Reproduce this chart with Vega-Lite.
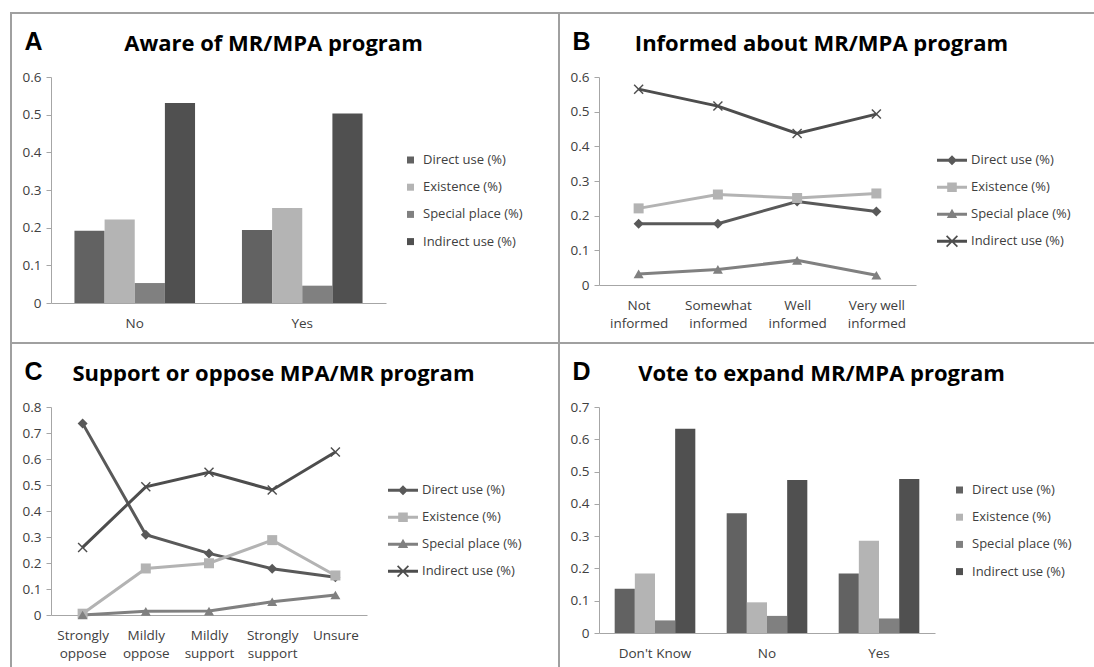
{
  "$schema": "https://vega.github.io/schema/vega-lite/v6.json",
  "background": "white",
  "padding": {"left": 10, "top": 12, "right": 0, "bottom": 0},
  "datasets": {
    "aware": [
      {"group": "No", "series": "Direct use (%)", "value": 0.192},
      {"group": "No", "series": "Existence (%)", "value": 0.222},
      {"group": "No", "series": "Special place (%)", "value": 0.053},
      {"group": "No", "series": "Indirect use (%)", "value": 0.531},
      {"group": "Yes", "series": "Direct use (%)", "value": 0.194},
      {"group": "Yes", "series": "Existence (%)", "value": 0.252},
      {"group": "Yes", "series": "Special place (%)", "value": 0.046},
      {"group": "Yes", "series": "Indirect use (%)", "value": 0.503}
    ],
    "informed": [
      {"level": "Not informed", "series": "Direct use (%)", "value": 0.177},
      {"level": "Somewhat informed", "series": "Direct use (%)", "value": 0.177},
      {"level": "Well informed", "series": "Direct use (%)", "value": 0.241},
      {"level": "Very well informed", "series": "Direct use (%)", "value": 0.212},
      {"level": "Not informed", "series": "Existence (%)", "value": 0.221},
      {"level": "Somewhat informed", "series": "Existence (%)", "value": 0.261},
      {"level": "Well informed", "series": "Existence (%)", "value": 0.251},
      {"level": "Very well informed", "series": "Existence (%)", "value": 0.264},
      {"level": "Not informed", "series": "Special place (%)", "value": 0.032},
      {"level": "Somewhat informed", "series": "Special place (%)", "value": 0.045},
      {"level": "Well informed", "series": "Special place (%)", "value": 0.071},
      {"level": "Very well informed", "series": "Special place (%)", "value": 0.028},
      {"level": "Not informed", "series": "Indirect use (%)", "value": 0.565},
      {"level": "Somewhat informed", "series": "Indirect use (%)", "value": 0.516},
      {"level": "Well informed", "series": "Indirect use (%)", "value": 0.437},
      {"level": "Very well informed", "series": "Indirect use (%)", "value": 0.493}
    ],
    "support": [
      {"level": "Strongly oppose", "series": "Direct use (%)", "value": 0.737},
      {"level": "Mildly oppose", "series": "Direct use (%)", "value": 0.309},
      {"level": "Mildly support", "series": "Direct use (%)", "value": 0.237},
      {"level": "Strongly support", "series": "Direct use (%)", "value": 0.178},
      {"level": "Unsure", "series": "Direct use (%)", "value": 0.145},
      {"level": "Strongly oppose", "series": "Existence (%)", "value": 0.005},
      {"level": "Mildly oppose", "series": "Existence (%)", "value": 0.179},
      {"level": "Mildly support", "series": "Existence (%)", "value": 0.199},
      {"level": "Strongly support", "series": "Existence (%)", "value": 0.288},
      {"level": "Unsure", "series": "Existence (%)", "value": 0.152},
      {"level": "Strongly oppose", "series": "Special place (%)", "value": 0.0},
      {"level": "Mildly oppose", "series": "Special place (%)", "value": 0.014},
      {"level": "Mildly support", "series": "Special place (%)", "value": 0.015},
      {"level": "Strongly support", "series": "Special place (%)", "value": 0.051},
      {"level": "Unsure", "series": "Special place (%)", "value": 0.077},
      {"level": "Strongly oppose", "series": "Indirect use (%)", "value": 0.26},
      {"level": "Mildly oppose", "series": "Indirect use (%)", "value": 0.493},
      {"level": "Mildly support", "series": "Indirect use (%)", "value": 0.549},
      {"level": "Strongly support", "series": "Indirect use (%)", "value": 0.481},
      {"level": "Unsure", "series": "Indirect use (%)", "value": 0.627}
    ],
    "vote": [
      {"group": "Don't Know", "series": "Direct use (%)", "value": 0.137},
      {"group": "Don't Know", "series": "Existence (%)", "value": 0.184},
      {"group": "Don't Know", "series": "Special place (%)", "value": 0.039},
      {"group": "Don't Know", "series": "Indirect use (%)", "value": 0.633},
      {"group": "No", "series": "Direct use (%)", "value": 0.371},
      {"group": "No", "series": "Existence (%)", "value": 0.095},
      {"group": "No", "series": "Special place (%)", "value": 0.053},
      {"group": "No", "series": "Indirect use (%)", "value": 0.474},
      {"group": "Yes", "series": "Direct use (%)", "value": 0.184},
      {"group": "Yes", "series": "Existence (%)", "value": 0.286},
      {"group": "Yes", "series": "Special place (%)", "value": 0.045},
      {"group": "Yes", "series": "Indirect use (%)", "value": 0.477}
    ]
  },
  "concat": [
    {
      "width": 548,
      "height": 330,
      "data": {"name": "aware"},
      "mark": {"type": "bar"},
      "encoding": {
        "x": {
          "field": "group", "type": "nominal", "sort": ["No", "Yes"],
          "scale": {"range": [40, 375], "paddingInner": 0.28, "paddingOuter": 0.14},
          "axis": {"orient": "bottom", "offset": -40, "ticks": false, "tickSize": 0, "labelPadding": 13, "labelAngle": 0,
            "title": "Aware of MR/MPA program", "titleX": 262, "titleY": -253, "titleAlign": "center", "titleBaseline": "alphabetic",
            "titleFont": "Open Sans", "titleFontSize": 22, "titleFontWeight": "bold", "titleColor": "#000000"}
        },
        "xOffset": {"field": "series", "type": "nominal", "sort": ["Direct use (%)", "Existence (%)", "Special place (%)", "Indirect use (%)"], "scale": {"paddingInner": 0, "paddingOuter": 0}},
        "y": {
          "field": "value", "type": "quantitative",
          "scale": {"domain": [0, 0.6], "range": [290, 64], "nice": false},
          "axis": {"orient": "left", "offset": -40, "values": [0, 0.1, 0.2, 0.3, 0.4, 0.5, 0.6], "format": ".1~f", "tickSize": 5, "labelPadding": 5,
            "title": "A", "titleAngle": 0, "titleX": -27, "titleY": 36, "titleAlign": "left", "titleBaseline": "alphabetic",
            "titleFont": "Liberation Sans", "titleFontSize": 25, "titleFontWeight": "bold", "titleColor": "#000000"}
        },
        "color": {
          "field": "series", "type": "nominal",
          "scale": {"domain": ["Direct use (%)", "Existence (%)", "Special place (%)", "Indirect use (%)"], "range": ["#626262", "#b4b4b4", "#808080", "#505050"]},
          "legend": {"title": null, "orient": "none", "legendX": 393, "legendY": 140.5, "symbolType": "square", "symbolSize": 49, "symbolStrokeWidth": 0, "labelOffset": 6, "rowPadding": 13.2}
        }
      }
    },
    {
      "width": 548,
      "height": 330,
      "data": {"name": "informed"},
      "resolve": {"scale": {"shape": "independent", "color": "independent"}},
      "encoding": {
        "x": {
          "field": "level", "type": "ordinal", "sort": ["Not informed", "Somewhat informed", "Well informed", "Very well informed"],
          "scale": {"type": "point", "range": [40, 357], "padding": 0.5},
          "axis": {"orient": "bottom", "offset": -58, "ticks": false, "tickSize": 0, "labelPadding": 13, "labelAngle": 0, "labelLineHeight": 18,
            "labelExpr": "indexof(datum.label, ' ') > 0 ? [slice(datum.label, 0, lastindexof(datum.label, ' ')), slice(datum.label, lastindexof(datum.label, ' ') + 1)] : datum.label",
            "title": "Informed about MR/MPA program", "titleX": 262, "titleY": -235, "titleAlign": "center", "titleBaseline": "alphabetic",
            "titleFont": "Open Sans", "titleFontSize": 22, "titleFontWeight": "bold", "titleColor": "#000000"}
        },
        "y": {
          "field": "value", "type": "quantitative",
          "scale": {"domain": [0, 0.6], "range": [272, 64], "nice": false},
          "axis": {"orient": "left", "offset": -40, "values": [0, 0.1, 0.2, 0.3, 0.4, 0.5, 0.6], "format": ".1~f", "tickSize": 5, "labelPadding": 5,
            "title": "B", "titleAngle": 0, "titleX": -27, "titleY": 36, "titleAlign": "left", "titleBaseline": "alphabetic",
            "titleFont": "Liberation Sans", "titleFontSize": 25, "titleFontWeight": "bold", "titleColor": "#000000"}
        }
      },
      "layer": [
        {
          "mark": {"type": "line", "strokeWidth": 3},
          "encoding": {
            "order": {"value": null},
            "stroke": {
              "field": "series", "type": "nominal",
              "scale": {"domain": ["Direct use (%)", "Existence (%)", "Special place (%)", "Indirect use (%)"], "range": ["#595959", "#b3b3b3", "#808080", "#4d4d4d"]},
              "legend": null
            }
          }
        },
        {
          "mark": {"type": "point", "filled": true, "opacity": 1, "size": 100, "strokeWidth": 0},
          "encoding": {
            "fill": {
              "field": "series", "type": "nominal",
              "scale": {"domain": ["Direct use (%)", "Existence (%)", "Special place (%)", "Indirect use (%)"], "range": ["#595959", "#b3b3b3", "#808080", "#4d4d4d"]},
              "legend": null
            },
            "shape": {
              "field": "series", "type": "nominal",
              "scale": {"domain": ["Direct use (%)", "Existence (%)", "Special place (%)", "Indirect use (%)"], "range": ["diamond", "square", "triangle-up", "M0,-0.2L0.8,-1L1,-0.8L0.2,0L1,0.8L0.8,1L0,0.2L-0.8,1L-1,0.8L-0.2,0L-1,-0.8L-0.8,-1Z"]},
              "legend": null
            }
          }
        },
        {
          "mark": {"type": "point", "filled": true, "opacity": 0, "size": 400},
          "encoding": {
            "color": {
              "field": "series", "type": "nominal",
              "scale": {"domain": ["Direct use (%)", "Existence (%)", "Special place (%)", "Indirect use (%)"], "range": ["#595959", "#b3b3b3", "#808080", "#4d4d4d"]},
              "legend": {"title": null, "orient": "none", "legendX": 383, "legendY": 137.3, "symbolSize": 400, "symbolOpacity": 1, "symbolStrokeWidth": 0, "labelOffset": 9, "rowPadding": 10}
            },
            "shape": {
              "field": "series", "type": "nominal",
              "scale": {"domain": ["Direct use (%)", "Existence (%)", "Special place (%)", "Indirect use (%)"], "range": [
                "M-1.5,-0.15L1.5,-0.15L1.5,0.15L-1.5,0.15ZM0,-0.5L0.5,0L0,0.5L-0.5,0Z",
                "M-1.5,-0.15L1.5,-0.15L1.5,0.15L-1.5,0.15ZM-0.48,-0.48L0.48,-0.48L0.48,0.48L-0.48,0.48Z",
                "M-1.5,-0.15L1.5,-0.15L1.5,0.15L-1.5,0.15ZM0,-0.55L0.52,0.38L-0.52,0.38Z",
                "M-1.5,-0.15L1.5,-0.15L1.5,0.15L-1.5,0.15ZM0,-0.12L0.48,-0.6L0.6,-0.48L0.12,0L0.6,0.48L0.48,0.6L0,0.12L-0.48,0.6L-0.6,0.48L-0.12,0L-0.6,-0.48L-0.48,-0.6Z"
              ]},
              "legend": {"title": null, "orient": "none", "legendX": 383, "legendY": 137.3, "symbolSize": 400, "symbolOpacity": 1, "symbolStrokeWidth": 0, "labelOffset": 9, "rowPadding": 10}
            }
          }
        }
      ]
    },
    {
      "width": 548,
      "height": 330,
      "data": {"name": "support"},
      "resolve": {"scale": {"shape": "independent", "color": "independent"}},
      "encoding": {
        "x": {
          "field": "level", "type": "ordinal", "sort": ["Strongly oppose", "Mildly oppose", "Mildly support", "Strongly support", "Unsure"],
          "scale": {"type": "point", "range": [40, 356], "padding": 0.5},
          "axis": {"orient": "bottom", "offset": -58, "ticks": false, "tickSize": 0, "labelPadding": 13, "labelAngle": 0, "labelLineHeight": 18,
            "labelExpr": "indexof(datum.label, ' ') > 0 ? [slice(datum.label, 0, lastindexof(datum.label, ' ')), slice(datum.label, lastindexof(datum.label, ' ') + 1)] : datum.label",
            "title": "Support or oppose MPA/MR program", "titleX": 262, "titleY": -235, "titleAlign": "center", "titleBaseline": "alphabetic",
            "titleFont": "Open Sans", "titleFontSize": 22, "titleFontWeight": "bold", "titleColor": "#000000"}
        },
        "y": {
          "field": "value", "type": "quantitative",
          "scale": {"domain": [0, 0.8], "range": [272, 64], "nice": false},
          "axis": {"orient": "left", "offset": -40, "values": [0, 0.1, 0.2, 0.3, 0.4, 0.5, 0.6, 0.7, 0.8], "format": ".1~f", "tickSize": 5, "labelPadding": 5,
            "title": "C", "titleAngle": 0, "titleX": -27, "titleY": 36, "titleAlign": "left", "titleBaseline": "alphabetic",
            "titleFont": "Liberation Sans", "titleFontSize": 25, "titleFontWeight": "bold", "titleColor": "#000000"}
        }
      },
      "layer": [
        {
          "mark": {"type": "line", "strokeWidth": 3},
          "encoding": {
            "order": {"value": null},
            "stroke": {
              "field": "series", "type": "nominal",
              "scale": {"domain": ["Direct use (%)", "Existence (%)", "Special place (%)", "Indirect use (%)"], "range": ["#595959", "#b3b3b3", "#808080", "#4d4d4d"]},
              "legend": null
            }
          }
        },
        {
          "mark": {"type": "point", "filled": true, "opacity": 1, "size": 100, "strokeWidth": 0},
          "encoding": {
            "fill": {
              "field": "series", "type": "nominal",
              "scale": {"domain": ["Direct use (%)", "Existence (%)", "Special place (%)", "Indirect use (%)"], "range": ["#595959", "#b3b3b3", "#808080", "#4d4d4d"]},
              "legend": null
            },
            "shape": {
              "field": "series", "type": "nominal",
              "scale": {"domain": ["Direct use (%)", "Existence (%)", "Special place (%)", "Indirect use (%)"], "range": ["diamond", "square", "triangle-up", "M0,-0.2L0.8,-1L1,-0.8L0.2,0L1,0.8L0.8,1L0,0.2L-0.8,1L-1,0.8L-0.2,0L-1,-0.8L-0.8,-1Z"]},
              "legend": null
            }
          }
        },
        {
          "mark": {"type": "point", "filled": true, "opacity": 0, "size": 400},
          "encoding": {
            "color": {
              "field": "series", "type": "nominal",
              "scale": {"domain": ["Direct use (%)", "Existence (%)", "Special place (%)", "Indirect use (%)"], "range": ["#595959", "#b3b3b3", "#808080", "#4d4d4d"]},
              "legend": {"title": null, "orient": "none", "legendX": 382, "legendY": 137.3, "symbolSize": 400, "symbolOpacity": 1, "symbolStrokeWidth": 0, "labelOffset": 9, "rowPadding": 10}
            },
            "shape": {
              "field": "series", "type": "nominal",
              "scale": {"domain": ["Direct use (%)", "Existence (%)", "Special place (%)", "Indirect use (%)"], "range": [
                "M-1.5,-0.15L1.5,-0.15L1.5,0.15L-1.5,0.15ZM0,-0.5L0.5,0L0,0.5L-0.5,0Z",
                "M-1.5,-0.15L1.5,-0.15L1.5,0.15L-1.5,0.15ZM-0.48,-0.48L0.48,-0.48L0.48,0.48L-0.48,0.48Z",
                "M-1.5,-0.15L1.5,-0.15L1.5,0.15L-1.5,0.15ZM0,-0.55L0.52,0.38L-0.52,0.38Z",
                "M-1.5,-0.15L1.5,-0.15L1.5,0.15L-1.5,0.15ZM0,-0.12L0.48,-0.6L0.6,-0.48L0.12,0L0.6,0.48L0.48,0.6L0,0.12L-0.48,0.6L-0.6,0.48L-0.12,0L-0.6,-0.48L-0.48,-0.6Z"
              ]},
              "legend": {"title": null, "orient": "none", "legendX": 382, "legendY": 137.3, "symbolSize": 400, "symbolOpacity": 1, "symbolStrokeWidth": 0, "labelOffset": 9, "rowPadding": 10}
            }
          }
        }
      ]
    },
    {
      "width": 548,
      "height": 330,
      "data": {"name": "vote"},
      "mark": {"type": "bar"},
      "encoding": {
        "x": {
          "field": "group", "type": "nominal", "sort": ["Don't Know", "No", "Yes"],
          "scale": {"range": [40, 376], "paddingInner": 0.28, "paddingOuter": 0.14},
          "axis": {"orient": "bottom", "offset": -40, "ticks": false, "tickSize": 0, "labelPadding": 13, "labelAngle": 0,
            "title": "Vote to expand MR/MPA program", "titleX": 262, "titleY": -253, "titleAlign": "center", "titleBaseline": "alphabetic",
            "titleFont": "Open Sans", "titleFontSize": 22, "titleFontWeight": "bold", "titleColor": "#000000"}
        },
        "xOffset": {"field": "series", "type": "nominal", "sort": ["Direct use (%)", "Existence (%)", "Special place (%)", "Indirect use (%)"], "scale": {"paddingInner": 0, "paddingOuter": 0}},
        "y": {
          "field": "value", "type": "quantitative",
          "scale": {"domain": [0, 0.7], "range": [290, 64], "nice": false},
          "axis": {"orient": "left", "offset": -40, "values": [0, 0.1, 0.2, 0.3, 0.4, 0.5, 0.6, 0.7], "format": ".1~f", "tickSize": 5, "labelPadding": 5,
            "title": "D", "titleAngle": 0, "titleX": -27, "titleY": 36, "titleAlign": "left", "titleBaseline": "alphabetic",
            "titleFont": "Liberation Sans", "titleFontSize": 25, "titleFontWeight": "bold", "titleColor": "#000000"}
        },
        "color": {
          "field": "series", "type": "nominal",
          "scale": {"domain": ["Direct use (%)", "Existence (%)", "Special place (%)", "Indirect use (%)"], "range": ["#626262", "#b4b4b4", "#808080", "#505050"]},
          "legend": {"title": null, "orient": "none", "legendX": 394, "legendY": 140.5, "symbolType": "square", "symbolSize": 49, "symbolStrokeWidth": 0, "labelOffset": 6, "rowPadding": 13.2}
        }
      }
    }
  ],
  "columns": 2,
  "spacing": 0,
  "bounds": "flush",
  "resolve": {
    "scale": {"x": "independent", "y": "independent", "xOffset": "independent", "color": "independent", "stroke": "independent", "fill": "independent", "shape": "independent"},
    "legend": {"color": "independent", "stroke": "independent", "fill": "independent", "shape": "independent"}
  },
  "config": {
    "view": {"stroke": "#a0a0a0", "strokeWidth": 2},
    "font": "Open Sans",
    "axis": {"grid": false, "domainColor": "#a6a6a6", "tickColor": "#a6a6a6", "labelColor": "#404040", "labelFont": "Open Sans", "labelFontSize": 13.5},
    "legend": {"labelColor": "#404040", "labelFont": "Open Sans", "labelFontSize": 13}
  }
}
